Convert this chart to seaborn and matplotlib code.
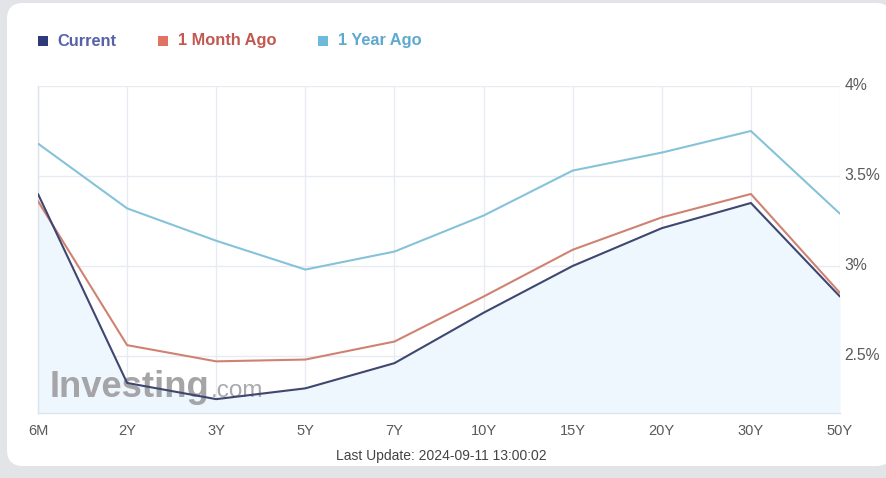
import matplotlib
matplotlib.use("Agg")
import matplotlib.pyplot as plt
from matplotlib.patches import FancyBboxPatch, Rectangle
import seaborn as sns
import pandas as pd
import numpy as np

maturities = ["6M", "2Y", "3Y", "5Y", "7Y", "10Y", "15Y", "20Y", "30Y", "50Y"]
current = [3.40, 2.35, 2.26, 2.32, 2.46, 2.74, 3.00, 3.21, 3.35, 2.83]
month_ago = [3.36, 2.56, 2.47, 2.48, 2.58, 2.83, 3.09, 3.27, 3.40, 2.85]
year_ago = [3.68, 3.32, 3.14, 2.98, 3.08, 3.28, 3.53, 3.63, 3.75, 3.29]
series_names = ["Current", "1 Month Ago", "1 Year Ago"]
y_ticks = [2.5, 3.0, 3.5, 4.0]
y_tick_labels = ["2.5%", "3%", "3.5%", "4%"]
update_text = "Last Update: 2024-09-11 13:00:02"

line_colors = {"Current": "#3F4770", "1 Month Ago": "#D08272", "1 Year Ago": "#86C3DA"}
marker_colors = {"Current": "#2E3A7A", "1 Month Ago": "#E07362", "1 Year Ago": "#6FBADB"}
text_colors = {"Current": "#5661A8", "1 Month Ago": "#C2584F", "1 Year Ago": "#5EA9CE"}

sns.set_theme(style="white")
plt.rcParams["font.family"] = ["Liberation Sans", "DejaVu Sans"]

pos = np.arange(len(maturities))
df = pd.DataFrame({
    "pos": np.concatenate([pos, pos, pos]),
    "value": current + month_ago + year_ago,
    "series": np.repeat(series_names, len(maturities)),
})

fig = plt.figure(figsize=(8.86, 4.78), dpi=100)
fig.patch.set_facecolor("#E3E4E8")
card = FancyBboxPatch((7 / 886, 12 / 478), 885 / 886, 463 / 478,
                      boxstyle="round,pad=0,rounding_size=0.018",
                      transform=fig.transFigure, facecolor="white",
                      edgecolor="none", zorder=-5, mutation_aspect=886 / 478)
fig.patches.append(card)

ax = fig.add_axes([38 / 886, 1 - 413 / 478, 802 / 886, 327 / 478])
ax.set_zorder(2)
ax.set_facecolor("none")
ymin, ymax = 2.183, 4.0
ax.fill_between(pos, current, ymin, color="#EEF6FE", zorder=1, lw=0)

# watermark
ax.text(0.014, 0.05, "Investing", transform=ax.transAxes,
        fontsize=26.2, fontweight="bold", color="#A5A5A7", zorder=2, va="baseline")
ax.text(0.2155, 0.05, ".com", transform=ax.transAxes,
        fontsize=17.5, color="#A9A9AB", zorder=2, va="baseline")

sns.lineplot(data=df, x="pos", y="value", hue="series", palette=line_colors,
             hue_order=["1 Year Ago", "1 Month Ago", "Current"],
             linewidth=1.5, ax=ax, legend=False, sort=False, zorder=3)

ax.set_xlim(0, len(maturities) - 1)
ax.set_ylim(ymin, ymax)
ax.set_xticks(pos)
ax.set_xticklabels(maturities)
ax.yaxis.tick_right()
ax.set_yticks(y_ticks)
ax.set_yticklabels(y_tick_labels)
ax.tick_params(axis="y", length=0, pad=3, labelsize=11.3, labelcolor="#5A5A5A")
ax.tick_params(axis="x", length=0, pad=8, labelsize=10.5, labelcolor="#5A5A5A")
ax.set_xlabel("")
ax.set_ylabel("")
for t in ax.get_yticklabels():
    t.set_verticalalignment("center")
ax.grid(True, color="#E8EBF2", linewidth=1, zorder=0)
ax.set_axisbelow(True)
for s in ["top", "right"]:
    ax.spines[s].set_visible(False)
for s in ["left", "bottom"]:
    ax.spines[s].set_color("#DDE3EC")
    ax.spines[s].set_linewidth(1)

# legend
leg_items = [(38, 57), (158, 178), (318, 338)]
for name, (sx, tx) in zip(series_names, leg_items):
    fig.patches.append(Rectangle((sx / 886, 1 - 46 / 478), 10 / 886, 10 / 478,
                                 transform=fig.transFigure,
                                 facecolor=marker_colors[name], edgecolor="none"))
    fig.text(tx / 886, 1 - 41 / 478, name, fontsize=11.8, fontweight="bold",
             color=text_colors[name], va="center", ha="left")

fig.text(441 / 886, 1 - 456 / 478, update_text, fontsize=10, color="#444444",
         ha="center", va="center")

fig.savefig("out.png", dpi=100, facecolor=fig.get_facecolor())
